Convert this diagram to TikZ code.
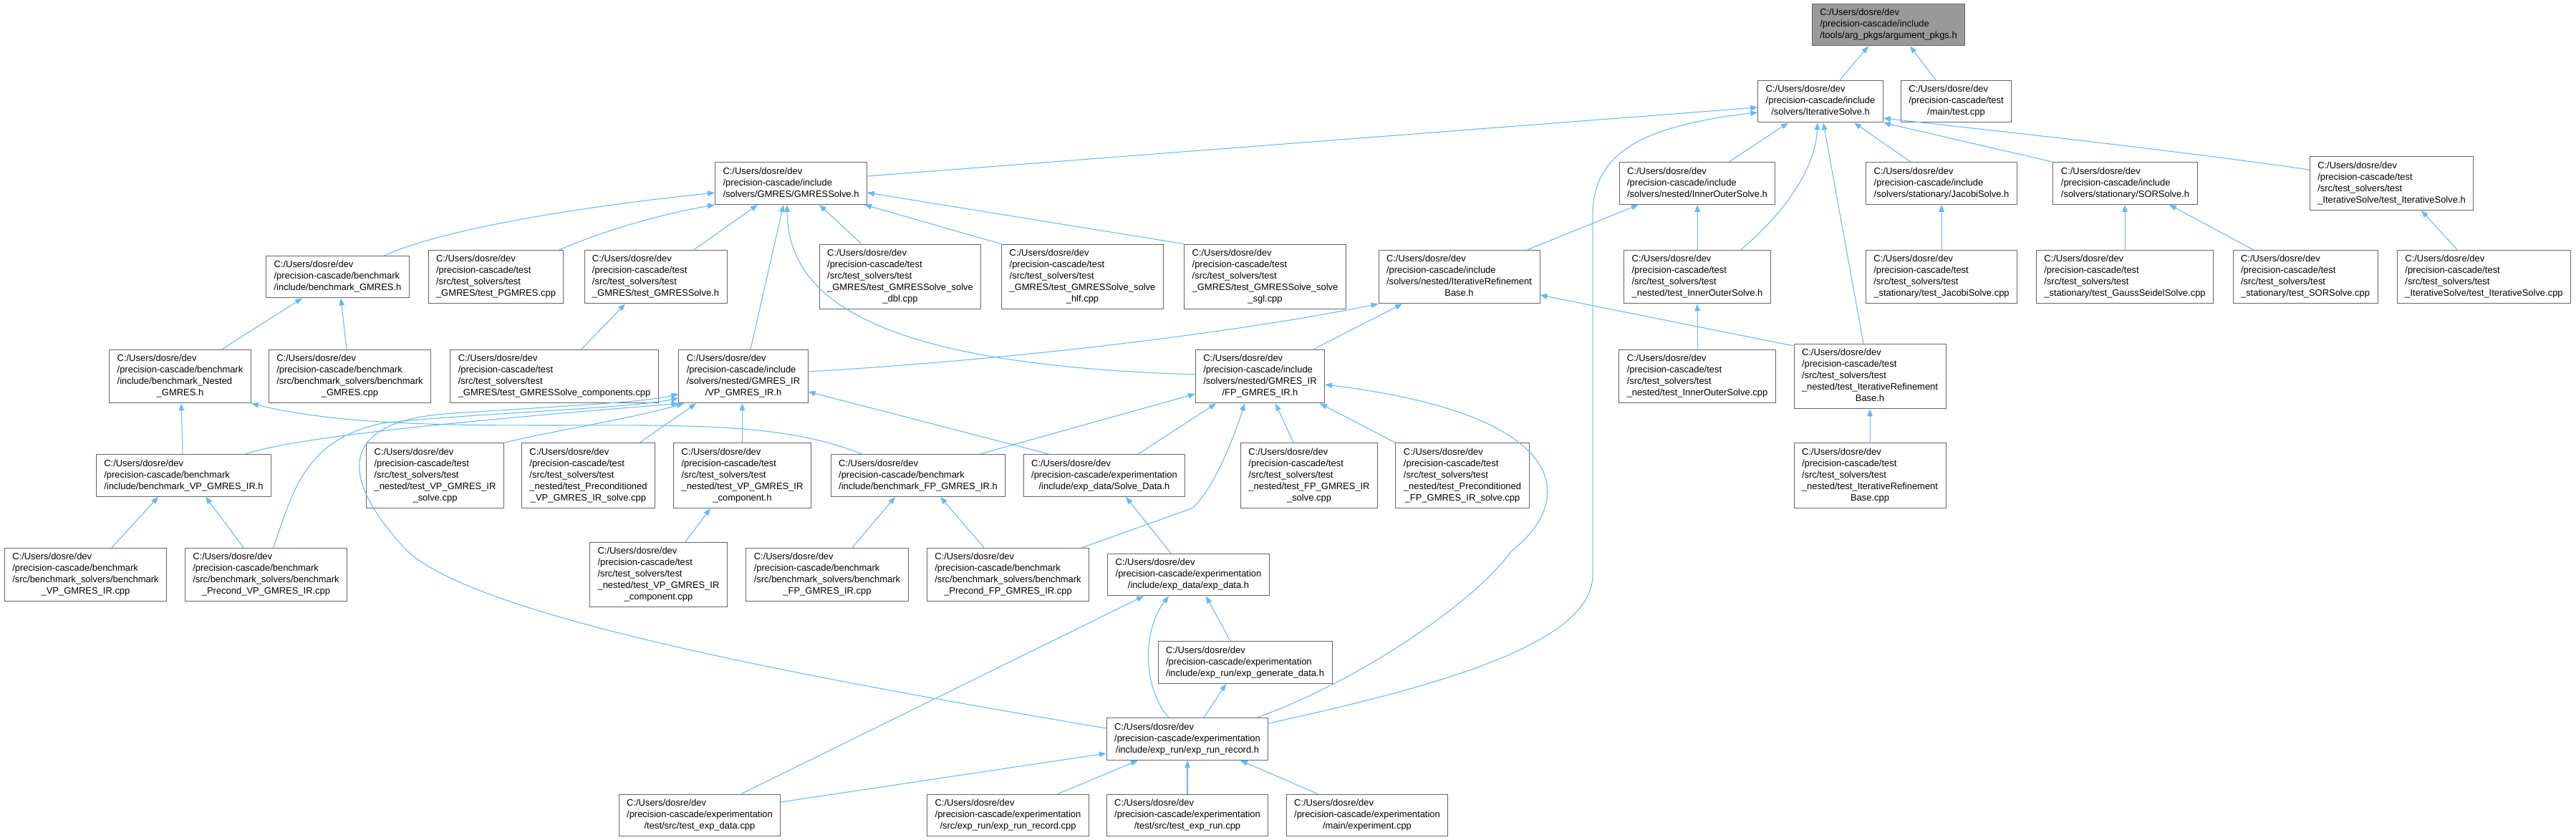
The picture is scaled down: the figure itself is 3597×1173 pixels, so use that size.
\documentclass[tikz,border=0pt]{standalone}
\usepackage{fontspec}
\setmainfont{Liberation Sans}
\usetikzlibrary{arrows.meta}

\definecolor{bordegris}{HTML}{666666}
\definecolor{fondogris}{HTML}{999999}
\definecolor{aristaazul}{HTML}{63B8FF}

% rotulo: lineas a la izquierda, la ultima centrada
\newcommand{\rotulo}[2]{\begin{tabular}{@{}l@{}}#1\\\multicolumn{1}{@{}c@{}}{#2}\end{tabular}}
\newcommand{\rinc}{C:/Users/dosre/dev\\/precision-cascade/include}
\newcommand{\rtst}{C:/Users/dosre/dev\\/precision-cascade/test\\/src/test\_solvers/test}
\newcommand{\rbch}{C:/Users/dosre/dev\\/precision-cascade/benchmark}
\newcommand{\rexp}{C:/Users/dosre/dev\\/precision-cascade/experimentation}

\tikzset{
  filenode/.style={draw=bordegris, fill=white, line width=0.55pt, inner xsep=0.22cm, inner ysep=0.11cm, font=\fontsize{7.37}{9.07}\selectfont},
  rootnode/.style={filenode, fill=fondogris},
  incarrow/.style={draw=aristaazul, line width=0.6pt, -{Triangle[length=0.2cm,width=0.15cm]}}
}

\begin{document}
\begin{tikzpicture}[x=0.02cm, y=-0.02cm]
\useasboundingbox (0,0) rectangle (3597,1173);

% Archivo raiz
\node [rootnode] (argpkgs) at (2637,34.5) {\rotulo{\rinc}{/tools/arg\_pkgs/argument\_pkgs.h}};

% Nivel 2
\node [filenode] (itsolve) at (2542,141.5) {\rotulo{\rinc}{/solvers/IterativeSolve.h}};
\node [filenode] (maintest) at (2731.5,141.5) {\rotulo{C:/Users/dosre/dev\\/precision-cascade/test}{/main/test.cpp}};

% Nivel 3
\node [filenode] (gmres) at (1104.5,256) {\rotulo{\rinc}{/solvers/GMRES/GMRESSolve.h}};
\node [filenode] (innerouter) at (2370,256) {\rotulo{\rinc}{/solvers/nested/InnerOuterSolve.h}};
\node [filenode] (jacobi) at (2711,256) {\rotulo{\rinc}{/solvers/stationary/JacobiSolve.h}};
\node [filenode] (sor) at (2967.5,256) {\rotulo{\rinc}{/solvers/stationary/SORSolve.h}};
\node [filenode] (testitsolveh) at (3339.5,256) {\rotulo{\rtst}{\_IterativeSolve/test\_IterativeSolve.h}};

% Nivel 4
\node [filenode] (benchgmresh) at (471.5,386.5) {\rotulo{\rbch}{/include/benchmark\_GMRES.h}};
\node [filenode] (testpgmres) at (692.5,386.5) {\rotulo{\rtst}{\_GMRES/test\_PGMRES.cpp}};
\node [filenode] (testgmresh) at (915.5,386.5) {\rotulo{\rtst}{\_GMRES/test\_GMRESSolve.h}};
\node [filenode] (testdbl) at (1257,386.5) {\rotulo{\rtst\\\_GMRES/test\_GMRESSolve\_solve}{\_dbl.cpp}};
\node [filenode] (testhlf) at (1511.5,386.5) {\rotulo{\rtst\\\_GMRES/test\_GMRESSolve\_solve}{\_hlf.cpp}};
\node [filenode] (testsgl) at (1766.5,386.5) {\rotulo{\rtst\\\_GMRES/test\_GMRESSolve\_solve}{\_sgl.cpp}};
\node [filenode] (irbase) at (2037.5,386.5) {\rotulo{\rinc\\/solvers/nested/IterativeRefinement}{Base.h}};
\node [filenode] (testinnerouterh) at (2370,386.5) {\rotulo{\rtst}{\_nested/test\_InnerOuterSolve.h}};
\node [filenode] (testjacobi) at (2711,386.5) {\rotulo{\rtst}{\_stationary/test\_JacobiSolve.cpp}};
\node [filenode] (testgauss) at (2967,386.5) {\rotulo{\rtst}{\_stationary/test\_GaussSeidelSolve.cpp}};
\node [filenode] (testsor) at (3219,386.5) {\rotulo{\rtst}{\_stationary/test\_SORSolve.cpp}};
\node [filenode] (testitsolvecpp) at (3468.5,386.5) {\rotulo{\rtst}{\_IterativeSolve/test\_IterativeSolve.cpp}};

% Nivel 5
\node [filenode] (benchnestedh) at (251.5,525.5) {\rotulo{\rbch\\/include/benchmark\_Nested}{\_GMRES.h}};
\node [filenode] (benchgmrescpp) at (488.5,525.5) {\rotulo{\rbch\\/src/benchmark\_solvers/benchmark}{\_GMRES.cpp}};
\node [filenode] (testcomponents) at (774,525.5) {\rotulo{\rtst}{\_GMRES/test\_GMRESSolve\_components.cpp}};
\node [filenode] (vpgmresh) at (1038,525.5) {\rotulo{\rinc\\/solvers/nested/GMRES\_IR}{/VP\_GMRES\_IR.h}};
\node [filenode] (fpgmresh) at (1759.5,525.5) {\rotulo{\rinc\\/solvers/nested/GMRES\_IR}{/FP\_GMRES\_IR.h}};
\node [filenode] (testinneroutercpp) at (2370,525.5) {\rotulo{\rtst}{\_nested/test\_InnerOuterSolve.cpp}};
\node [filenode] (testirbaseh) at (2611,525.5) {\rotulo{\rtst\\\_nested/test\_IterativeRefinement}{Base.h}};

% Nivel 6
\node [filenode] (benchvph) at (256.5,664) {\rotulo{\rbch}{/include/benchmark\_VP\_GMRES\_IR.h}};
\node [filenode] (testvpsolve) at (607.5,664) {\rotulo{\rtst\\\_nested/test\_VP\_GMRES\_IR}{\_solve.cpp}};
\node [filenode] (testprecvpsolve) at (821.5,664) {\rotulo{\rtst\\\_nested/test\_Preconditioned}{\_VP\_GMRES\_IR\_solve.cpp}};
\node [filenode] (testvpcomph) at (1036.5,664) {\rotulo{\rtst\\\_nested/test\_VP\_GMRES\_IR}{\_component.h}};
\node [filenode] (benchfph) at (1282,664) {\rotulo{\rbch}{/include/benchmark\_FP\_GMRES\_IR.h}};
\node [filenode] (solvedata) at (1542,664) {\rotulo{\rexp}{/include/exp\_data/Solve\_Data.h}};
\node [filenode] (testfpsolve) at (1828,664) {\rotulo{\rtst\\\_nested/test\_FP\_GMRES\_IR}{\_solve.cpp}};
\node [filenode] (testprecfpsolve) at (2042,664) {\rotulo{\rtst\\\_nested/test\_Preconditioned}{\_FP\_GMRES\_IR\_solve.cpp}};
\node [filenode] (testirbasecpp) at (2611,664) {\rotulo{\rtst\\\_nested/test\_IterativeRefinement}{Base.cpp}};

% Nivel 7
\node [filenode] (benchvpcpp) at (119.5,802.5) {\rotulo{\rbch\\/src/benchmark\_solvers/benchmark}{\_VP\_GMRES\_IR.cpp}};
\node [filenode] (benchprecvpcpp) at (371.5,802.5) {\rotulo{\rbch\\/src/benchmark\_solvers/benchmark}{\_Precond\_VP\_GMRES\_IR.cpp}};
\node [filenode] (testvpcompcpp) at (919.5,802.5) {\rotulo{\rtst\\\_nested/test\_VP\_GMRES\_IR}{\_component.cpp}};
\node [filenode] (benchfpcpp) at (1155,802.5) {\rotulo{\rbch\\/src/benchmark\_solvers/benchmark}{\_FP\_GMRES\_IR.cpp}};
\node [filenode] (benchprecfpcpp) at (1407.5,802.5) {\rotulo{\rbch\\/src/benchmark\_solvers/benchmark}{\_Precond\_FP\_GMRES\_IR.cpp}};
\node [filenode] (expdata) at (1659.5,802.5) {\rotulo{\rexp}{/include/exp\_data/exp\_data.h}};

% Niveles 8 a 10
\node [filenode] (expgen) at (1738.5,925) {\rotulo{\rexp}{/include/exp\_run/exp\_generate\_data.h}};
\node [filenode] (exprunrecordh) at (1658,1032) {\rotulo{\rexp}{/include/exp\_run/exp\_run\_record.h}};
\node [filenode] (testexpdata) at (977,1138.5) {\rotulo{\rexp}{/test/src/test\_exp\_data.cpp}};
\node [filenode] (exprunrecordcpp) at (1407.5,1138.5) {\rotulo{\rexp}{/src/exp\_run/exp\_run\_record.cpp}};
\node [filenode] (testexprun) at (1658,1138.5) {\rotulo{\rexp}{/test/src/test\_exp\_run.cpp}};
\node [filenode] (experiment) at (1909,1138.5) {\rotulo{\rexp}{/main/experiment.cpp}};

% Inclusiones: raiz e IterativeSolve.h
\draw [incarrow] (itsolve.north -| 2569,0) -- (argpkgs.south -| 2609,0);
\draw [incarrow] (maintest.north -| 2703,0) -- (argpkgs.south -| 2667,0);
\draw [incarrow] (gmres.east |- 0,246) -- (itsolve.west |- 0,150);
\draw [incarrow] (innerouter.north -| 2414,0) -- (itsolve.south -| 2497,0);
\draw [incarrow] (jacobi.north -| 2668,0) -- (itsolve.south -| 2589,0);
\draw [incarrow] (sor.north west) -- (itsolve.south east);
\draw [incarrow] (testitsolveh.west |- 0,237) .. controls (3000,205) and (2760,180) .. (itsolve.east |- 0,165);
\draw [incarrow] (testinnerouterh.north -| 2431,0) .. controls (2500,290) and (2535,230) .. (itsolve.south -| 2538,0);
\draw [incarrow] (testirbaseh.north -| 2602,0) -- (itsolve.south -| 2546,0);
\draw [incarrow] (exprunrecordh.east |- 0,1010) .. controls (2000,960) and (2224,900) .. (2224,803) -- (2224,300) .. controls (2224,210) and (2300,175) .. (itsolve.west |- 0,157);

% GMRESSolve.h
\draw [incarrow] (benchgmresh.north -| 537,0) .. controls (620,320) and (800,290) .. (gmres.west |- 0,269);
\draw [incarrow] (testpgmres.north -| 781,0) .. controls (850,320) and (920,300) .. (gmres.south west);
\draw [incarrow] (testgmresh.north -| 969,0) -- (gmres.south -| 1058,0);
\draw [incarrow] (testdbl.north -| 1203,0) -- (gmres.south -| 1144,0);
\draw [incarrow] (testhlf.north west) -- (gmres.south -| 1207,0);
\draw [incarrow] (testsgl.north west) -- (gmres.east |- 0,269);
\draw [incarrow] (vpgmresh.north -| 1048,0) -- (gmres.south -| 1094,0);
\draw [incarrow] (fpgmresh.west |- 0,523) .. controls (1250,510) and (1100,430) .. (gmres.south -| 1099,0);

% benchmark_GMRES.h, test_GMRESSolve.h y benchmark_Nested_GMRES.h
\draw [incarrow] (benchnestedh.north -| 310,0) -- (benchgmresh.south -| 422,0);
\draw [incarrow] (benchgmrescpp.north -| 484,0) -- (benchgmresh.south -| 476,0);
\draw [incarrow] (testcomponents.north -| 812,0) -- (testgmresh.south -| 873,0);
\draw [incarrow] (benchvph.north -| 255,0) -- (benchnestedh.south -| 253,0);
\draw [incarrow] (benchfph.north -| 1204,0) .. controls (1130,605) and (1050,595) .. (900,594) .. controls (700,593) and (500,600) .. (benchnestedh.south east);

% IterativeRefinementBase.h e InnerOuterSolve.h
\draw [incarrow] (vpgmresh.east |- 0,519) .. controls (1450,500) and (1750,460) .. (irbase.south west);
\draw [incarrow] (fpgmresh.north -| 1834,0) -- (irbase.south -| 1958,0);
\draw [incarrow] (testirbaseh.west |- 0,483) -- (irbase.east |- 0,412);
\draw [incarrow] (irbase.north -| 2133,0) -- (innerouter.south -| 2288,0);
\draw [incarrow] (testinnerouterh.north) -- (innerouter.south);
\draw [incarrow] (testinneroutercpp.north) -- (testinnerouterh.south);

% Estacionarios y pruebas
\draw [incarrow] (testjacobi.north) -- (jacobi.south);
\draw [incarrow] (testgauss.north) -- (sor.south -| testgauss.north);
\draw [incarrow] (testsor.north -| 3146,0) -- (sor.south -| 3029,0);
\draw [incarrow] (testitsolvecpp.north -| 3431,0) -- (testitsolveh.south -| 3381,0);
\draw [incarrow] (testirbasecpp.north) -- (testirbaseh.south);

% VP_GMRES_IR.h
\draw [incarrow] (benchvph.north -| 342,0) .. controls (430,605) and (750,580) .. (vpgmresh.south west);
\draw [incarrow] (testvpsolve.north east) .. controls (780,600) and (880,585) .. (vpgmresh.south -| 955,0);
\draw [incarrow] (testprecvpsolve.north -| 893,0) -- (vpgmresh.south -| 972,0);
\draw [incarrow] (testvpcomph.north) -- (vpgmresh.south -| testvpcomph.north);
\draw [incarrow] (solvedata.north -| 1465,0) -- (vpgmresh.east |- 0,547);
\draw [incarrow] (benchprecvpcpp.north -| 382,0) .. controls (410,680) and (430,610) .. (540,590) .. controls (700,575) and (880,570) .. (vpgmresh.west |- 0,556);
\draw [incarrow] (exprunrecordh.west |- 0,1017) .. controls (1150,950) and (640,860) .. (560,760) .. controls (470,660) and (480,590) .. (620,578) .. controls (800,566) and (900,562) .. (vpgmresh.west |- 0,550);

% FP_GMRES_IR.h
\draw [incarrow] (benchfph.north -| 1368,0) -- (fpgmresh.west |- 0,550);
\draw [incarrow] (solvedata.north -| 1589,0) -- (fpgmresh.south -| 1698,0);
\draw [incarrow] (testfpsolve.north -| 1806,0) -- (fpgmresh.south -| 1781,0);
\draw [incarrow] (testprecfpsolve.north west) -- (fpgmresh.south -| 1843,0);
\draw [incarrow] (benchprecfpcpp.north -| 1511,0) -- (1664,710) .. controls (1690,690) and (1720,620) .. (fpgmresh.south -| 1738,0);
\draw [incarrow] (exprunrecordh.north -| 1755,0) .. controls (1900,950) and (2060,840) .. (2110,770) .. controls (2200,700) and (2200,580) .. (fpgmresh.east |- 0,537);

% Benchmarks y componentes
\draw [incarrow] (benchvpcpp.north -| 156,0) -- (benchvph.south -| 221,0);
\draw [incarrow] (benchprecvpcpp.north -| 340,0) -- (benchvph.south -| 287,0);
\draw [incarrow] (testvpcompcpp.north -| 957,0) -- (testvpcomph.south -| 992,0);
\draw [incarrow] (benchfpcpp.north -| 1190,0) -- (benchfph.south -| 1250,0);
\draw [incarrow] (benchprecfpcpp.north -| 1374,0) -- (benchfph.south -| 1313,0);

% Experimentacion
\draw [incarrow] (expdata.north -| 1635,0) -- (solvedata.south -| 1572,0);
\draw [incarrow] (testexpdata.north -| 1035,0) -- (expdata.south -| 1597,0);
\draw [incarrow] (expgen.north -| 1718,0) -- (expdata.south -| 1684,0);
\draw [incarrow] (exprunrecordh.north -| 1632,0) .. controls (1595,960) and (1595,880) .. (expdata.south -| 1632,0);
\draw [incarrow] (exprunrecordh.north -| 1681,0) -- (expgen.south -| 1712,0);
\draw [incarrow] (testexpdata.east |- 0,1120) -- (exprunrecordh.west |- 0,1052);
\draw [incarrow] (exprunrecordcpp.north -| 1477,0) -- (exprunrecordh.south -| 1589,0);
\draw [incarrow] (testexprun.north) -- (exprunrecordh.south);
\draw [incarrow] (experiment.north -| 1840,0) -- (exprunrecordh.south -| 1732,0);
\end{tikzpicture}
\end{document}
